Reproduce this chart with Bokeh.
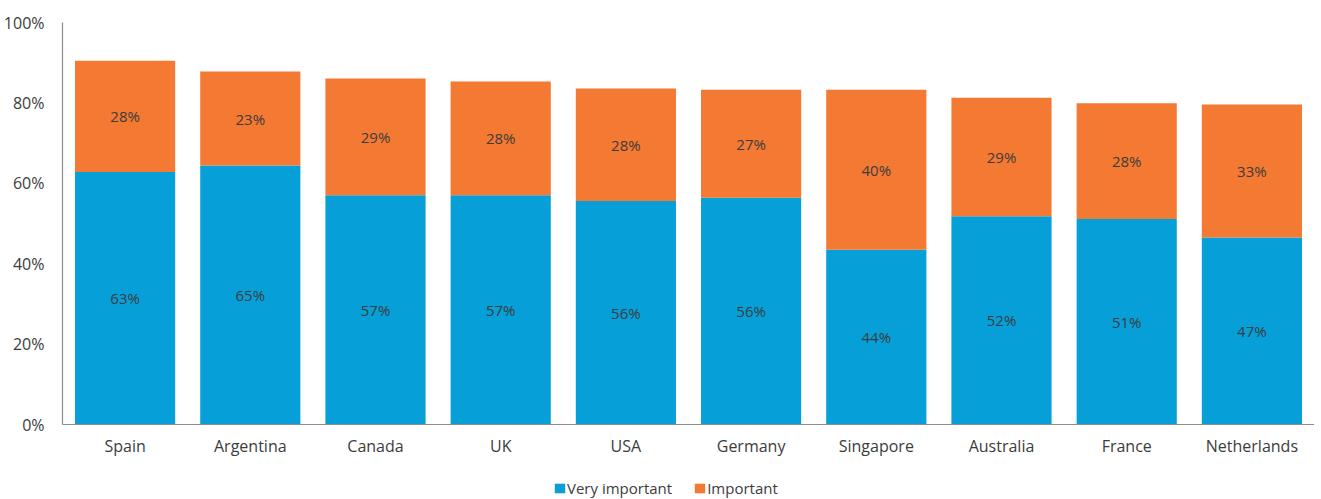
from bokeh.plotting import figure
from bokeh.models import ColumnDataSource, FactorRange, Legend, LegendItem, PrintfTickFormatter, Range1d
from bokeh.core.properties import value
from bokeh.embed import file_html
from bokeh.resources import INLINE

countries = ["Spain", "Argentina", "Canada", "UK", "USA", "Germany", "Singapore", "Australia", "France", "Netherlands"]
very_important = [62.8, 64.4, 57.0, 57.0, 55.6, 56.4, 43.5, 51.8, 51.1, 46.5]
important = [27.7, 23.4, 29.1, 28.3, 28.0, 26.9, 39.8, 29.5, 28.8, 33.1]
very_labels = ["63%", "65%", "57%", "57%", "56%", "56%", "44%", "52%", "51%", "47%"]
imp_labels = ["28%", "23%", "29%", "28%", "28%", "27%", "40%", "29%", "28%", "33%"]
y_ticks = [0, 20, 40, 60, 80, 100]

BLUE = "#069fd8"
ORANGE = "#f47932"
FONT = "Open Sans"
TXT = "#3c3c3c"

src = ColumnDataSource(dict(
    x=countries,
    very=very_important,
    imp=important,
    top=[a + b for a, b in zip(very_important, important)],
    very_mid=[a / 2 for a in very_important],
    imp_mid=[a + b / 2 for a, b in zip(very_important, important)],
    very_lab=very_labels,
    imp_lab=imp_labels,
))

# frame: 0% at 402px below top; extra 74px below the zero line hold the labels and legend
p = figure(x_range=FactorRange(*countries, range_padding=0), y_range=Range1d(-74 / 4.02, 100),
           frame_width=1252, frame_height=476, output_backend="svg", toolbar_location=None,
           min_border_left=61, min_border_right=0, min_border_top=22, min_border_bottom=0)
p.outline_line_color = None
p.xgrid.grid_line_color = None
p.ygrid.grid_line_color = None
p.background_fill_color = None

r1 = p.vbar(x="x", bottom=0, top="very", width=0.8, source=src, fill_color=BLUE, line_color=None)
r2 = p.vbar(x="x", bottom="very", top="top", width=0.8, source=src, fill_color=ORANGE, line_color=None)

for col, lab in (("very_mid", "very_lab"), ("imp_mid", "imp_lab")):
    p.text(x="x", y=col, text=lab, source=src, text_align="center", text_baseline="middle",
           text_font=value(FONT), text_font_size="15px", text_color=TXT)

for ax in (p.xaxis[0], p.yaxis[0]):
    ax.axis_line_color = "#8c8c8c"
    ax.axis_line_width = 1.2
    ax.major_tick_line_color = None
    ax.minor_tick_line_color = None
    ax.major_label_text_font = FONT
    ax.major_label_text_font_size = "16px"
    ax.major_label_text_color = TXT
p.xaxis.fixed_location = 0
p.yaxis.bounds = (0, 100)
p.yaxis.ticker = y_ticks
p.yaxis.formatter = PrintfTickFormatter(format="%d%%")
p.yaxis.major_label_standoff = 12
p.xaxis.major_label_standoff = 4

legend = Legend(items=[LegendItem(label="Very important", renderers=[r1]),
                       LegendItem(label="Important", renderers=[r2])],
                orientation="horizontal", location=(491, 0),
                label_text_font=FONT, label_text_font_size="15px", label_text_color=TXT,
                glyph_width=13, glyph_height=12, label_standoff=1, spacing=21,
                label_height=12, padding=0, margin=0, border_line_color=None,
                background_fill_alpha=0)
p.add_layout(legend, "center")

open("out.html", "w").write(file_html(p, INLINE))
